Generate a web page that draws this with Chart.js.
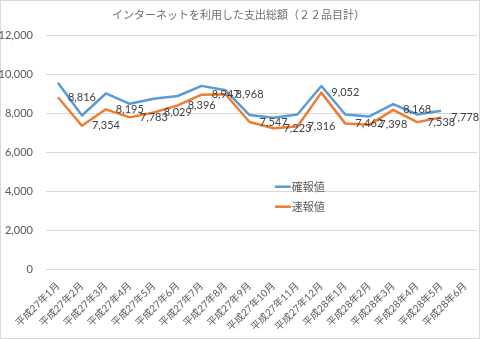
<!DOCTYPE html>
<html>
<head>
<meta charset="utf-8">
<script src="https://cdn.jsdelivr.net/npm/chart.js@4/dist/chart.umd.min.js"></script>
<style>
  body { margin: 0; background: #fff; }
  canvas { display: block; }
</style>
</head>
<body>
<canvas id="chart" width="480" height="339"></canvas>
<script>
const months = [
  "平成27年1月", "平成27年2月", "平成27年3月", "平成27年4月", "平成27年5月", "平成27年6月",
  "平成27年7月", "平成27年8月", "平成27年9月", "平成27年10月", "平成27年11月", "平成27年12月",
  "平成28年1月", "平成28年2月", "平成28年3月", "平成28年4月", "平成28年5月", "平成28年6月",
];
// 確報値
const kakuho = [9560, 7880, 9010, 8480, 8740, 8880, 9400, 9170, 7900, 7760, 7930, 9390, 7930, 7830, 8460, 7930, 8120];
// 速報値 (labelled values)
const sokuho = [8816, 7354, 8195, 7783, 8029, 8396, 8947, 8968, 7547, 7223, 7316, 9052, 7462, 7398, 8168, 7538, 7778];
const yTicks = [0, 2000, 4000, 6000, 8000, 10000, 12000];

const grey = "#595959";
Chart.defaults.font.family = "Lato, 'Noto Sans CJK JP', sans-serif";
Chart.defaults.color = grey;

// value labels to the right of each 速報値 point
const valueLabels = {
  id: "valueLabels",
  afterDatasetsDraw(chart) {
    const ctx = chart.ctx;
    const meta = chart.getDatasetMeta(1);
    ctx.save();
    ctx.font = "11px Lato, 'Noto Sans CJK JP', sans-serif";
    ctx.fillStyle = "#404040";
    ctx.textAlign = "left";
    ctx.textBaseline = "middle";
    meta.data.forEach((pt, i) => {
      ctx.fillText(sokuho[i].toLocaleString("en-US"), pt.x + 10, pt.y);
    });
    ctx.restore();
  },
};

// legend drawn inside the plot area, stacked vertically
const innerLegend = {
  id: "innerLegend",
  afterDraw(chart) {
    const { ctx, chartArea } = chart;
    const x = chartArea.left + chartArea.width * 0.531;
    let y = chartArea.top + chartArea.height * 0.648;
    ctx.save();
    ctx.font = "11px 'Noto Sans CJK JP', sans-serif";
    ctx.textBaseline = "middle";
    chart.data.datasets.forEach((ds) => {
      ctx.strokeStyle = ds.borderColor;
      ctx.lineWidth = 2.5;
      ctx.beginPath();
      ctx.moveTo(x, y);
      ctx.lineTo(x + 16, y);
      ctx.stroke();
      ctx.fillStyle = grey;
      ctx.fillText(ds.label, x + 17, y);
      y += 20;
    });
    ctx.restore();
  },
};

const frame = {
  id: "frame",
  beforeDraw(chart) {
    const ctx = chart.ctx;
    ctx.save();
    ctx.fillStyle = "#fff";
    ctx.fillRect(0, 0, chart.width, chart.height);
    ctx.strokeStyle = "#d9d9d9";
    ctx.lineWidth = 1;
    ctx.strokeRect(0.5, 0.5, chart.width - 1, chart.height - 1);
    ctx.restore();
  },
};

new Chart(document.getElementById("chart"), {
  type: "line",
  data: {
    labels: months,
    datasets: [
      {
        label: "確報値",
        data: kakuho,
        borderColor: "#5B9BD5",
        borderWidth: 2.5,
        pointRadius: 0,
        tension: 0,
        borderJoinStyle: "round",
        order: 1,
      },
      {
        label: "速報値",
        data: sokuho,
        borderColor: "#ED7D31",
        borderWidth: 2.5,
        pointRadius: 0,
        tension: 0,
        borderJoinStyle: "round",
        order: 0,
      },
    ],
  },
  options: {
    responsive: false,
    animation: false,
    layout: { padding: { left: 0, right: 3, top: 0, bottom: 0 } },
    plugins: {
      legend: { display: false },
      tooltip: { enabled: false },
      title: {
        display: true,
        text: "インターネットを利用した支出総額（２２品目計）",
        color: "#6f6f6f",
        font: { size: 11, weight: "normal", family: "'Noto Sans CJK JP', sans-serif" },
        padding: { top: 8, bottom: 14 },
      },
    },
    scales: {
      x: {
        offset: true,
        grid: { display: false },
        border: { display: false },
        ticks: {
          autoSkip: false,
          maxRotation: 45,
          minRotation: 45,
          padding: 3,
          font: { size: 10 },
        },
        afterFit(scale) { scale.height = 70; },
      },
      y: {
        min: 0,
        max: 12000,
        afterBuildTicks(scale) { scale.ticks = yTicks.map((v) => ({ value: v })); },
        grid: { color: "#d9d9d9", drawTicks: false },
        border: { display: false },
        ticks: {
          padding: 13,
          font: { size: 11 },
          callback: (v) => v.toLocaleString("en-US"),
        },
        afterFit(scale) { scale.width = 46; },
      },
    },
  },
  plugins: [frame, valueLabels, innerLegend],
});
</script>
</body>
</html>
